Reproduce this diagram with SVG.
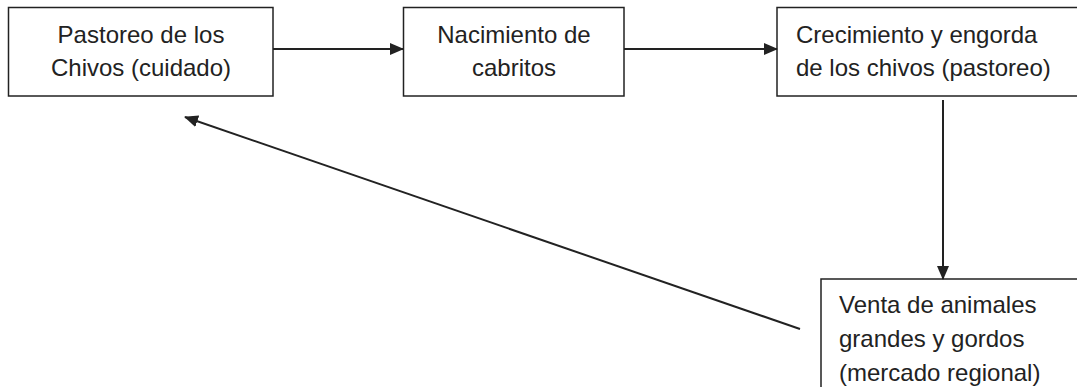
<svg xmlns="http://www.w3.org/2000/svg" width="1077" height="387" viewBox="0 0 1077 387">
<style>
.box{fill:#fff;stroke:#222;stroke-width:1.5}
.t{font-family:"Liberation Sans",Arial,sans-serif;font-size:24px;fill:#222}
.c{text-anchor:middle}
.ln{stroke:#222;stroke-width:2;fill:none}
</style>
<defs>
<marker id="ah" markerWidth="14" markerHeight="12" refX="13" refY="6" orient="auto" markerUnits="userSpaceOnUse">
<path d="M0,0 L14,6 L0,12 Z" fill="#222"/>
</marker>
</defs>
<rect width="1077" height="387" fill="#fff"/>
<g id="n1">
<rect class="box" x="8.5" y="7.5" width="264.5" height="88.5"/>
<text class="t c" x="141" y="43">Pastoreo de los</text>
<text class="t c" x="141" y="76">Chivos (cuidado)</text>
</g>
<g id="n2">
<rect class="box" x="403.5" y="7.5" width="220.5" height="88.5"/>
<text class="t c" x="514" y="43">Nacimiento de</text>
<text class="t c" x="514" y="76">cabritos</text>
</g>
<g id="n3">
<rect class="box" x="777" y="7.5" width="310" height="88.5"/>
<text class="t" x="796" y="43">Crecimiento y engorda</text>
<text class="t" x="796" y="76">de los chivos (pastoreo)</text>
</g>
<g id="n4">
<rect class="box" x="821" y="279" width="270" height="120"/>
<text class="t" x="839" y="313">Venta de animales</text>
<text class="t" x="839" y="347">grandes y gordos</text>
<text class="t" x="839" y="381">(mercado regional)</text>
</g>
<g id="connectors">
<line class="ln" x1="273" y1="49" x2="403" y2="49" marker-end="url(#ah)"/>
<line class="ln" x1="624" y1="49" x2="777" y2="49" marker-end="url(#ah)"/>
<line class="ln" x1="943" y1="100" x2="943" y2="279" marker-end="url(#ah)"/>
<line class="ln" x1="800" y1="329" x2="185" y2="117" marker-end="url(#ah)"/>
</g>
</svg>
